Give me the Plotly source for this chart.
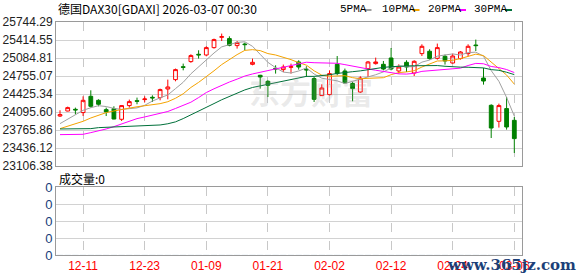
import plotly.graph_objects as go

# ---------------- data ----------------
dates = [
    "2025-12-08", "2025-12-09", "2025-12-10", "2025-12-11", "2025-12-12", "2025-12-15", "2025-12-16",
    "2025-12-17", "2025-12-18", "2025-12-19", "2025-12-22", "2025-12-23", "2025-12-29", "2025-12-30",
    "2026-01-02", "2026-01-05", "2026-01-06", "2026-01-07", "2026-01-08", "2026-01-09", "2026-01-12",
    "2026-01-13", "2026-01-14", "2026-01-15", "2026-01-16", "2026-01-19", "2026-01-20", "2026-01-21",
    "2026-01-22", "2026-01-23", "2026-01-26", "2026-01-27", "2026-01-28", "2026-01-29", "2026-01-30",
    "2026-02-02", "2026-02-03", "2026-02-04", "2026-02-05", "2026-02-06", "2026-02-09", "2026-02-10",
    "2026-02-11", "2026-02-12", "2026-02-13", "2026-02-16", "2026-02-17", "2026-02-18", "2026-02-19",
    "2026-02-20", "2026-02-23", "2026-02-24", "2026-02-25", "2026-02-26", "2026-02-27", "2026-03-02",
    "2026-03-03", "2026-03-04", "2026-03-05", "2026-03-06",
]

opens = [24022, 24114, 24145, 24085, 24383, 24310, 24139, 24158, 23962, 24213,
         24303, 24323, 24365, 24359, 24517, 24689, 24925, 25019, 25153, 25140,
         25275, 25464, 25440, 25312, 25341, 24969, 24768, 24658, 24896, 24872,
         24914, 25012, 24878, 24707, 24396, 24414, 24969, 24847, 24616, 24462,
         24891, 24982, 24969, 25085, 24847, 25006, 24810, 25165, 25208, 25079,
         25116, 24993, 25074, 25165, 25323, 24718, 24218, 23925, 24158, 23943]
highs = [24127, 24194, 24176, 24383, 24493, 24328, 24176, 24200, 24218, 24323,
         24359, 24383, 24401, 24524, 24689, 24891, 24982, 25153, 25226, 25299,
         25440, 25532, 25482, 25396, 25367, 25074, 24777, 24676, 24951, 24964,
         24982, 25043, 24933, 24737, 24603, 24859, 25121, 24891, 24645, 24750,
         25030, 25092, 25030, 25268, 24969, 25043, 25043, 25336, 25244, 25349,
         25147, 25165, 25213, 25336, 25422, 24902, 24237, 24249, 24370, 24004]
lows = [24004, 24108, 24053, 24022, 24176, 24200, 24022, 23962, 23931, 24176,
        24237, 24273, 24279, 24310, 24328, 24658, 24859, 24997, 25074, 25116,
        25257, 25396, 25299, 25257, 25226, 24951, 24524, 24370, 24799, 24828,
        24799, 24872, 24737, 24279, 24389, 24401, 24768, 24616, 24292, 24444,
        24737, 24964, 24859, 24859, 24799, 24828, 24755, 25121, 25055, 25055,
        24964, 24982, 25055, 25116, 25213, 24597, 23619, 23810, 23773, 23344]
closes = [24048, 24176, 24134, 24310, 24200, 24237, 24096, 23967, 24213, 24286,
          24292, 24334, 24354, 24506, 24554, 24872, 24914, 25129, 25142, 25275,
          25422, 25475, 25317, 25367, 25330, 25006, 24737, 24585, 24885, 24920,
          24925, 24920, 24867, 24328, 24535, 24799, 24799, 24627, 24524, 24718,
          25012, 25012, 24883, 24883, 24920, 24920, 25024, 25299, 25074, 25275,
          25030, 25121, 25195, 25299, 25312, 24663, 23802, 24213, 23821, 23608]

ma5 = [23882.4, 23961.7, 24047.2, 24126.6, 24173.6, 24211.4, 24195.4, 24162.0, 24142.6, 24159.8,
       24170.8, 24218.4, 24295.8, 24354.4, 24408.0, 24524.0, 24640.0, 24795.0, 24922.2, 25066.4,
       25176.4, 25288.6, 25326.2, 25371.2, 25382.2, 25299.0, 25151.4, 25005.0, 24908.6, 24826.6,
       24810.4, 24847.0, 24903.4, 24792.0, 24715.0, 24689.8, 24665.6, 24617.6, 24656.8, 24693.4,
       24736.0, 24778.6, 24829.8, 24901.6, 24942.0, 24923.6, 24926.0, 25009.2, 25047.4, 25118.4,
       25140.4, 25159.8, 25139.0, 25184.0, 25191.4, 25118.0, 24854.2, 24657.8, 24362.2, 24021.4]
ma10 = [23790.7, 23833.5, 23870.1, 23925.1, 23986.1, 24035.0, 24083.8, 24114.4, 24144.9, 24166.7,
        24191.1, 24206.9, 24228.9, 24248.5, 24283.9, 24347.4, 24429.2, 24545.4, 24638.3, 24737.2,
        24850.2, 24964.3, 25060.6, 25146.7, 25224.3, 25237.7, 25220.0, 25165.6, 25139.9, 25104.4,
        25054.7, 24999.2, 24954.2, 24850.3, 24770.8, 24750.1, 24756.3, 24760.5, 24724.4, 24704.2,
        24712.9, 24722.1, 24723.7, 24779.2, 24817.7, 24829.8, 24852.3, 24919.5, 24974.5, 25030.2,
        25032.0, 25042.9, 25074.1, 25115.7, 25154.9, 25129.2, 25007.0, 24898.4, 24773.1, 24606.4]
ma20 = [23680.8, 23680.8, 23680.8, 23686.9, 23717.5, 23748.0, 23784.6, 23827.4, 23876.2, 23925.1,
        23974.0, 24005.0, 24035.0, 24065.0, 24105.0, 24160.0, 24215.0, 24275.0, 24360.0, 24452.0,
        24520.7, 24585.6, 24644.8, 24697.6, 24754.1, 24792.6, 24824.6, 24855.5, 24889.1, 24920.8,
        24952.5, 24981.8, 25007.4, 24998.5, 24997.6, 24993.9, 24988.2, 24963.1, 24932.2, 24904.3,
        24883.8, 24860.7, 24839.0, 24814.8, 24794.3, 24790.0, 24804.3, 24840.0, 24849.5, 24867.2,
        24872.5, 24882.5, 24898.9, 24947.5, 24986.3, 24979.5, 24929.7, 24909.0, 24873.8, 24818.3]
ma30 = [23784.6, 23784.6, 23790.7, 23790.7, 23790.7, 23809.0, 23815.1, 23821.3, 23827.4, 23833.5,
        23839.6, 23845.7, 23851.8, 23857.9, 23880.0, 23915.0, 23975.0, 24040.0, 24110.0, 24180.0,
        24250.0, 24320.0, 24385.0, 24445.0, 24500.0, 24545.0, 24575.0, 24605.0, 24635.0, 24669.4,
        24698.7, 24723.5, 24747.9, 24748.5, 24759.7, 24778.4, 24801.8, 24823.8, 24834.2, 24848.6,
        24872.6, 24895.2, 24912.8, 24925.4, 24937.6, 24939.2, 24942.9, 24948.5, 24946.3, 24946.3,
        24933.2, 24921.4, 24917.3, 24915.1, 24914.5, 24903.0, 24871.9, 24859.5, 24824.0, 24780.3]

volumes = [0] * len(dates)

price_ticks = [23106.38, 23436.12, 23765.86, 24095.60, 24425.34, 24755.07, 25084.81, 25414.55, 25744.29]
price_tick_text = ["23106.38", "23436.12", "23765.86", "24095.60", "24425.34",
                   "24755.07", "25084.81", "25414.55", "25744.29"]
x_tick_dates = ["2025-12-11", "2025-12-23", "2026-01-09", "2026-01-21",
                "2026-02-02", "2026-02-12", "2026-02-24", "2026-03-06"]
x_tick_labels = ["12-11", "12-23", "01-09", "01-21", "02-02", "02-12", "02-24", "03-06"]
vol_ticks = [0, 1, 2, 3, 4]
vol_tick_text = ["0", "0", "0", "0", "0"]

ma_names = ["5PMA", "10PMA", "20PMA", "30PMA"]
ma_colors = ["#a0a0a0", "#f5a300", "#ff00ff", "#00703a"]
title_text = "德国DAX30[GDAXI] 2026-03-07 00:30"
vol_title = "成交量:0"

# ---------------- figure ----------------
W, H = 578, 276
ML, MR, MT, MB = 56, 56, 22, 21
PW, PH = W - ML - MR, H - MT - MB


def px_x(px):
    return (px - ML) / PW


def px_y(py):
    return (H - MB - py) / PH


fig = go.Figure()

for name, vals, col in zip(ma_names, [ma5, ma10, ma20, ma30], ma_colors):
    fig.add_trace(go.Scatter(x=dates, y=vals, mode="lines", name=name,
                             line=dict(color=col, width=1), hoverinfo="skip",
                             xaxis="x", yaxis="y"))

fig.add_trace(go.Candlestick(
    x=dates, open=opens, high=highs, low=lows, close=closes,
    increasing=dict(line=dict(color="#ff0000", width=1), fillcolor="rgba(255,255,255,0)"),
    decreasing=dict(line=dict(color="#008000", width=1), fillcolor="#008000"),
    whiskerwidth=0, hoverinfo="skip", xaxis="x", yaxis="y", name="DAX30"))

fig.add_trace(go.Bar(x=dates, y=volumes, marker_color="#008000", xaxis="x2", yaxis="y2",
                     hoverinfo="skip", name="成交量"))

axis_font = dict(family="Liberation Sans, Arial", size=12, color="#222222")
grid_h = "#d2d2d2"
grid_v = "#c8c8c8"
border = "#9a9a9a"

common_x = dict(type="category", range=[-0.52, 60.0], showgrid=True, gridcolor=grid_v,
                griddash="dash", gridwidth=1, tickmode="array", tickvals=x_tick_dates,
                ticktext=x_tick_labels, showline=True, linecolor=border, linewidth=1,
                mirror=True, zeroline=False, fixedrange=True, automargin=False, ticks="")

fig.update_layout(
    width=W, height=H, margin=dict(l=ML, r=MR, t=MT, b=MB, autoexpand=False),
    paper_bgcolor="white", plot_bgcolor="white", showlegend=False,
    xaxis=dict(common_x, anchor="y", domain=[0, 1], showticklabels=False,
               rangeslider=dict(visible=False)),
    xaxis2=dict(common_x, anchor="y2", domain=[0, 1], showticklabels=True, matches="x",
                tickfont=dict(family="Liberation Sans, Arial", size=12, color="#ff0000")),
    yaxis=dict(domain=[px_y(166), 1], range=[price_ticks[0], price_ticks[-1]],
               tickmode="array", tickvals=price_ticks, ticktext=price_tick_text,
               showgrid=True, gridcolor=grid_h, gridwidth=1, showline=True, linecolor=border,
               linewidth=1, mirror=True, ticks="", zeroline=False, tickfont=axis_font,
               fixedrange=True, automargin=False),
    yaxis2=dict(domain=[0, px_y(187)], range=[0, 4], tickmode="array", tickvals=vol_ticks,
                ticktext=vol_tick_text, showgrid=True, gridcolor=grid_h, gridwidth=1,
                showline=True, linecolor=border, linewidth=1, mirror=True, ticks="",
                zeroline=False, fixedrange=True, automargin=False,
                tickfont=dict(family="Liberation Sans, Arial", size=13, color="#17407a")),
)

cjk = "Noto Sans CJK SC"
# title
fig.add_annotation(x=px_x(56), y=px_y(8.5), xref="paper", yref="paper", xanchor="left",
                   yanchor="middle", text=title_text, showarrow=False,
                   font=dict(family=cjk, size=12, color="#000000"))
# volume title
fig.add_annotation(x=px_x(57), y=px_y(178), xref="paper", yref="paper", xanchor="left",
                   yanchor="middle", text=vol_title, showarrow=False,
                   font=dict(family=cjk, size=12, color="#000000"))

# custom legend (text then short line)
leg_text_x = [338, 380, 426, 472]
leg_line_x = [(364.5, 371.5), (412.5, 419.5), (459, 466), (505, 512)]
for name, col, tx, (l0, l1) in zip(ma_names, ma_colors, leg_text_x, leg_line_x):
    fig.add_annotation(x=px_x(tx), y=px_y(9.5), xref="paper", yref="paper", xanchor="left",
                       yanchor="middle", text=name, showarrow=False,
                       font=dict(family="Liberation Mono, DejaVu Sans Mono", size=11, color="#000000"))
    fig.add_shape(type="line", xref="paper", yref="paper", x0=px_x(l0), x1=px_x(l1),
                  y0=px_y(10), y1=px_y(10), line=dict(color=col, width=2))

# watermarks
fig.add_annotation(x=px_x(311), y=px_y(90), xref="paper", yref="paper", xanchor="center",
                   yanchor="middle", text="<b>东方财富</b>", showarrow=False,
                   font=dict(family=cjk, size=31, color="rgba(160,160,160,0.22)"))
fig.add_annotation(x=px_x(578), y=px_y(265), xref="paper", yref="paper", xanchor="right",
                   yanchor="middle", text="<b>www.365jz.com</b>", showarrow=False,
                   font=dict(family="DejaVu Serif", size=15, color="#1c3f78"))

fig.write_html("out.html")
